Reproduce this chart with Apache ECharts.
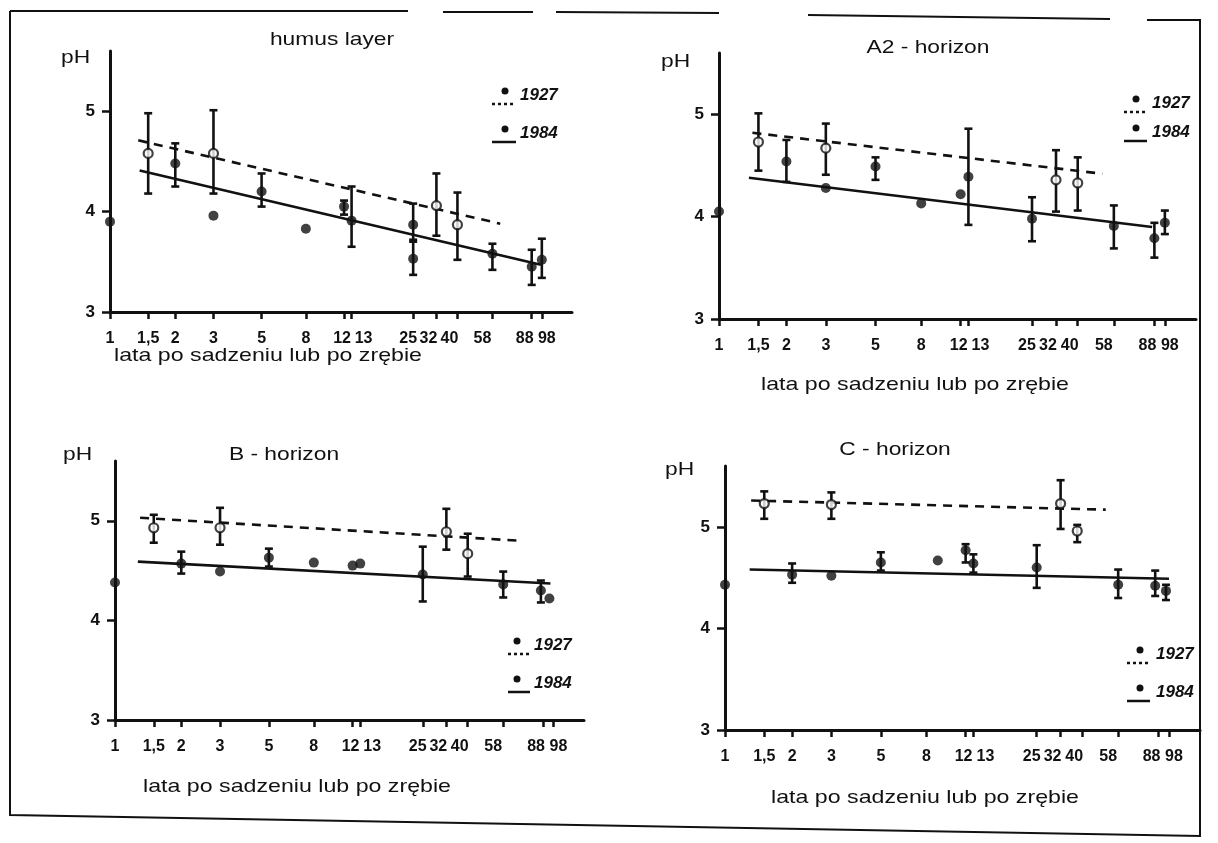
<!DOCTYPE html>
<html>
<head>
<meta charset="utf-8">
<script src="https://cdn.jsdelivr.net/npm/echarts@6/dist/echarts.min.js"></script>
<style>
  html, body { margin: 0; padding: 0; background: #fff; }
  #chart { width: 1218px; height: 843px; }
</style>
</head>
<body>
<div id="chart"></div>
<script>
// x axis: years after planting / clear-cut (log scale)
const yearTicks = [1, 1.5, 2, 3, 5, 8, 12, 13, 25, 32, 40, 58, 88, 98];
const yearLabels = ['1', '1,5', '2', '3', '5', '8', '12', '13', '25', '32', '40', '58', '88', '98'];
const phTicks = [3, 4, 5];
const xMax = 135;

const titles = ['humus layer', 'A2 - horizon', 'B - horizon', 'C - horizon'];
const xName = 'lata po sadzeniu lub po zrębie';

// rows: [years, pH, bar low, bar high]  (null = no bar)
const humus1927 = [[1.5, 4.58, 4.18, 4.98], [3, 4.58, 4.18, 5.01], [32, 4.06, 3.76, 4.38], [40, 3.87, 3.52, 4.19]];
const humus1984 = [[1, 3.90, null, null], [2, 4.48, 4.25, 4.68], [3, 3.96, null, null], [5, 4.20, 4.05, 4.38],
  [8, 3.83, null, null], [12, 4.05, 3.97, 4.11], [13, 3.91, 3.65, 4.25], [25, 3.87, 3.72, 4.08],
  [25, 3.53, 3.37, 3.70], [58, 3.58, 3.42, 3.68], [88, 3.45, 3.27, 3.62], [98, 3.52, 3.34, 3.73]];
const humusTrend1927 = [[1.35, 4.71], [63, 3.88]];
const humusTrend1984 = [[1.37, 4.41], [97, 3.47]];

const a2_1927 = [[1.5, 4.73, 4.45, 5.01], [3, 4.67, 4.41, 4.91], [32, 4.36, 4.05, 4.65], [40, 4.33, 4.06, 4.58]];
const a2_1984 = [[1, 4.05, null, null], [2, 4.54, 4.34, 4.75], [3, 4.28, null, null], [5, 4.49, 4.36, 4.58],
  [8, 4.13, null, null], [12, 4.22, null, null], [13, 4.39, 3.92, 4.86], [25, 3.98, 3.76, 4.19],
  [58, 3.91, 3.69, 4.11], [88, 3.79, 3.60, 3.94], [98, 3.94, 3.83, 4.06]];
const a2Trend1927 = [[1.41, 4.82], [51.5, 4.42]];
const a2Trend1984 = [[1.36, 4.38], [86, 3.90]];

const b1927 = [[1.5, 4.93, 4.78, 5.06], [3, 4.93, 4.76, 5.13], [32, 4.89, 4.71, 5.12], [40, 4.67, 4.44, 4.87]];
const b1984 = [[1, 4.38, null, null], [2, 4.57, 4.47, 4.69], [3, 4.49, null, null], [5, 4.63, 4.54, 4.72],
  [8, 4.58, null, null], [12, 4.55, null, null], [13, 4.57, null, null], [25, 4.46, 4.19, 4.74],
  [58, 4.36, 4.23, 4.49], [86, 4.30, 4.18, 4.40], [94, 4.22, null, null]];
const bTrend1927 = [[1.30, 5.03], [68, 4.80]];
const bTrend1984 = [[1.27, 4.59], [95, 4.37]];

const c1927 = [[1.5, 5.23, 5.08, 5.35], [3, 5.22, 5.08, 5.34], [32, 5.23, 4.98, 5.46], [38, 4.96, 4.85, 5.02]];
const c1984 = [[1, 4.43, null, null], [2, 4.53, 4.45, 4.64], [3, 4.52, null, null], [5, 4.65, 4.57, 4.75],
  [9, 4.67, null, null], [12, 4.77, 4.65, 4.83], [13, 4.64, 4.55, 4.73], [25, 4.60, 4.40, 4.82],
  [58, 4.43, 4.30, 4.58], [85, 4.42, 4.32, 4.57], [95, 4.37, 4.28, 4.43]];
const cTrend1927 = [[1.31, 5.26], [51, 5.17]];
const cTrend1984 = [[1.29, 4.58], [98, 4.49]];

const ink = '#111';
const sans = '"Liberation Sans", Arial, sans-serif';
const tickFont = '"Liberation Sans Narrow", "Liberation Sans", Arial, sans-serif';

const panels = [
  { p1927: humus1927, p1984: humus1984, t1927: humusTrend1927, t1984: humusTrend1984 },
  { p1927: a2_1927, p1984: a2_1984, t1927: a2Trend1927, t1984: a2Trend1984 },
  { p1927: b1927, p1984: b1984, t1927: bTrend1927, t1984: bTrend1984 },
  { p1927: c1927, p1984: c1984, t1927: cTrend1927, t1984: cTrend1984 }
];

// layout of the four plots (pixels)
const grids = [
  { left: 110, top: 51, width: 462, height: 261 },
  { left: 719, top: 53, width: 477, height: 266 },
  { left: 115, top: 461, width: 469, height: 259 },
  { left: 725, top: 466, width: 475, height: 264 }
];
const titlePos = [[332, 40], [928, 48], [284, 455], [895, 450]];
const phPos = [[61, 58], [661, 62], [63, 455], [665, 470]];
const namePos = [[268, 356], [915, 385], [297, 787], [925, 798]];
// legend: dot x, 1927 y, 1984 y, line from, line to, text x
const legendPos = [
  [505, 91, 129, 492, 516, 520],
  [1136, 99, 128, 1124, 1147, 1152],
  [517, 641, 679, 508, 530, 534],
  [1140, 650, 688, 1127, 1150, 1156]
];
// the printed tick numbers sit a little off their ticks (px, + = right)
const labelShift = [0, 0, 0, 0, 0, 0, -2, 12, -5, -8, -8, -10, -7, 5];

const labelRich = {};
labelShift.forEach((s, k) => {
  labelRich['p' + k] = {
    fontFamily: tickFont, fontWeight: 'bold', fontSize: 16, color: ink,
    padding: s > 0 ? [0, 0, 0, 2 * s] : [0, -2 * s, 0, 0]
  };
});

function yearLabel(v) {
  const k = yearTicks.findIndex(t => Math.abs(t - v) < 0.01);
  return k >= 0 ? '{p' + k + '|' + yearLabels[k] + '}' : ' ';
}

function errorBar(params, api) {
  const x = api.value(0);
  const top = api.coord([x, api.value(3)]);
  const bot = api.coord([x, api.value(2)]);
  const cap = 4;
  const st = { stroke: ink, lineWidth: 2.6 };
  return {
    type: 'group',
    children: [
      { type: 'line', shape: { x1: top[0], y1: top[1], x2: bot[0], y2: bot[1] }, style: st },
      { type: 'line', shape: { x1: top[0] - cap, y1: top[1], x2: top[0] + cap, y2: top[1] }, style: st },
      { type: 'line', shape: { x1: bot[0] - cap, y1: bot[1], x2: bot[0] + cap, y2: bot[1] }, style: st }
    ]
  };
}

const xAxes = [], yAxes = [], series = [];
panels.forEach((p, i) => {
  xAxes.push({
    gridIndex: i, type: 'log', logBase: 10, min: 1, max: xMax,
    axisLine: { show: true, onZero: false, lineStyle: { color: ink, width: 3 } },
    axisTick: { show: true, customValues: yearTicks, length: 7, lineStyle: { color: ink, width: 2.5 } },
    // blank label at the axis end keeps 98 from being treated as the (hideable) last label
    axisLabel: { customValues: yearTicks.concat([xMax]), formatter: yearLabel, rich: labelRich, color: ink,
      fontFamily: tickFont, fontWeight: 'bold', fontSize: 16, margin: 19,
      showMinLabel: true, showMaxLabel: true, hideOverlap: false },
    splitLine: { show: false }
  });
  yAxes.push({
    gridIndex: i, type: 'value', min: 3, max: 5.6,
    axisLine: { show: true, onZero: false, lineStyle: { color: ink, width: 3 } },
    axisTick: { show: true, customValues: phTicks, length: 8, lineStyle: { color: ink, width: 2.5 } },
    axisLabel: { customValues: phTicks, color: ink, fontFamily: tickFont, fontWeight: 'bold', fontSize: 17,
      margin: 15, showMinLabel: true, showMaxLabel: true },
    splitLine: { show: false }
  });
  const ax = { xAxisIndex: i, yAxisIndex: i };
  series.push(
    Object.assign({ type: 'line', data: p.t1927, symbol: 'none', silent: true, z: 2,
      lineStyle: { color: ink, width: 2.6, type: [9, 7] } }, ax),
    Object.assign({ type: 'line', data: p.t1984, symbol: 'none', silent: true, z: 2,
      lineStyle: { color: ink, width: 2.6 } }, ax),
    Object.assign({ type: 'custom', renderItem: errorBar, z: 3, clip: false,
      data: p.p1927.filter(r => r[2] != null), encode: { x: 0, y: [1, 2, 3] } }, ax),
    Object.assign({ type: 'custom', renderItem: errorBar, z: 3, clip: false,
      data: p.p1984.filter(r => r[2] != null), encode: { x: 0, y: [1, 2, 3] } }, ax),
    Object.assign({ type: 'scatter', data: p.p1984.map(r => [r[0], r[1]]), symbol: 'circle', symbolSize: 10,
      clip: false, z: 4, itemStyle: { color: ink } }, ax),
    Object.assign({ type: 'scatter', data: p.p1927.map(r => [r[0], r[1]]), symbol: 'circle', symbolSize: 9,
      clip: false, z: 5, itemStyle: { color: '#fff', borderColor: ink, borderWidth: 2.2 } }, ax)
  );
});

function txt(text, x, y, opts) {
  return Object.assign({
    type: 'text', x: x, y: y, silent: true,
    style: Object.assign({ text: text, fill: ink, fontFamily: sans, fontSize: 19,
      align: 'center', verticalAlign: 'middle' }, opts && opts.style)
  }, opts && opts.el);
}

const graphic = [];
// scanned frame
const frameLines = [
  [[10, 11], [408, 11]], [[443, 12], [533, 12]], [[556, 12], [719, 13]], [[808, 15], [1110, 19]],
  [[1147, 20], [1200, 20], [1200, 836], [10, 815], [10, 11]]
];
frameLines.forEach(pts => graphic.push({ type: 'polyline', silent: true, shape: { points: pts },
  style: { stroke: ink, lineWidth: 2, fill: null } }));

for (let i = 0; i < 4; i++) {
  graphic.push(txt(titles[i], titlePos[i][0], titlePos[i][1], { el: { scaleX: 1.2 } }));
  graphic.push(txt('pH', phPos[i][0], phPos[i][1], { el: { scaleX: 1.2 }, style: { align: 'left' } }));
  graphic.push(txt(xName, namePos[i][0], namePos[i][1], { el: { scaleX: 1.22 } }));
  const [dx, y27, y84, lx1, lx2, tx] = legendPos[i];
  graphic.push(
    { type: 'circle', silent: true, shape: { cx: dx, cy: y27, r: 3.5 }, style: { fill: ink } },
    { type: 'line', silent: true, shape: { x1: lx1, y1: y27 + 13, x2: lx2, y2: y27 + 13 },
      style: { stroke: ink, lineWidth: 2.5, lineDash: [3, 3] } },
    txt('1927', tx, y27 + 4, { style: { align: 'left', fontWeight: 'bold', fontStyle: 'italic', fontSize: 17 } }),
    { type: 'circle', silent: true, shape: { cx: dx, cy: y84, r: 3.5 }, style: { fill: ink } },
    { type: 'line', silent: true, shape: { x1: lx1, y1: y84 + 13, x2: lx2, y2: y84 + 13 },
      style: { stroke: ink, lineWidth: 2.5 } },
    txt('1984', tx, y84 + 4, { style: { align: 'left', fontWeight: 'bold', fontStyle: 'italic', fontSize: 17 } })
  );
}

const chart = echarts.init(document.getElementById('chart'), null, { renderer: 'canvas' });
chart.setOption({
  backgroundColor: '#fff',
  animation: false,
  grid: grids,
  xAxis: xAxes,
  yAxis: yAxes,
  series: series,
  graphic: graphic
});
</script>
</body>
</html>
